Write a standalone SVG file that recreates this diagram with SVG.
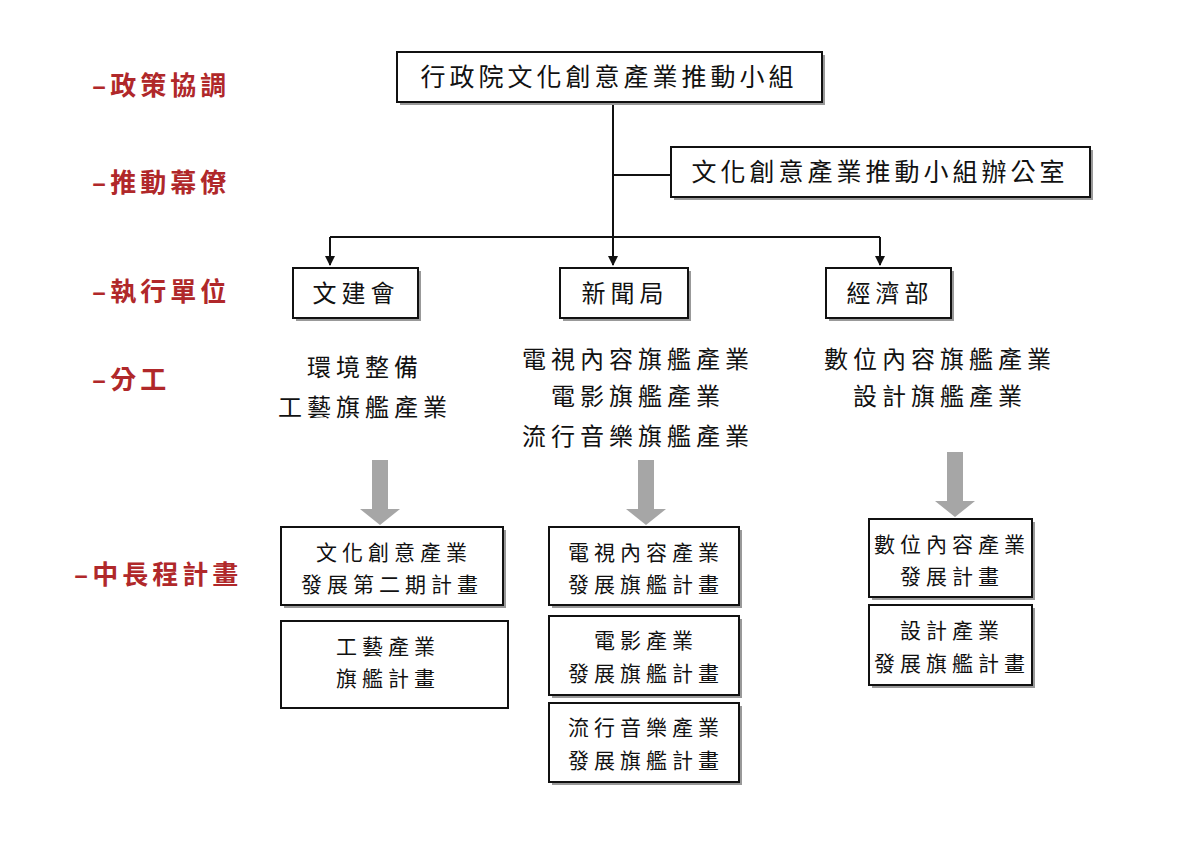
<svg xmlns="http://www.w3.org/2000/svg" width="1200" height="866" viewBox="0 0 1200 866">
<style>
text{font-family:"Noto Sans CJK TC","Noto Sans CJK SC",sans-serif;fill:#111;text-anchor:middle}
.lab{fill:#b0282a;font-size:26px;font-weight:bold;text-anchor:start;letter-spacing:4px}
.box{fill:#fff;stroke:#111;stroke-width:2}
.sh{fill:#999}
.t1{font-size:25px;letter-spacing:4px}
.t2{font-size:24px;letter-spacing:5px}
.t3{font-size:21px;letter-spacing:5px}
.ln{stroke:#111;stroke-width:2;fill:none}
.ga{fill:#a6a6a6}
</style>
<defs><marker id="ah" markerWidth="10" markerHeight="10" refX="9" refY="5" orient="auto" markerUnits="userSpaceOnUse" viewBox="0 0 10 10"><path d="M0,0L10,5L0,10z" fill="#111"/></marker></defs>
<g id="labels">
<text class="lab" x="92" y="95">–政策協調</text>
<text class="lab" x="92" y="192">–推動幕僚</text>
<text class="lab" x="92" y="301">–執行單位</text>
<text class="lab" x="92" y="389">–分工</text>
<text class="lab" x="74" y="584">–中長程計畫</text>
</g>
<g id="connectors">
<path class="ln" d="M613,102V255"/>
<path class="ln" d="M613,175H671"/>
<path class="ln" d="M330,237H880"/>
<path class="ln" d="M330,237V265" marker-end="url(#ah)"/>
<path class="ln" d="M880,237V265" marker-end="url(#ah)"/>
<path class="ln" d="M613,237V265" marker-end="url(#ah)"/>
<path class="ga" d="M372,460h16v49h12l-20,16l-20,-16h12z"/>
<path class="ga" d="M638,460h16v49h12l-20,16l-20,-16h12z"/>
<path class="ga" d="M947,452h16v49h12l-20,16l-20,-16h12z"/>
</g>
<g id="n-top"><rect class="sh" x="400" y="55" width="425" height="50"/><rect class="box" x="397" y="52" width="425" height="50"/><text class="t1" x="609" y="86">行政院文化創意產業推動小組</text></g>
<g id="n-office"><rect class="sh" x="674" y="150" width="419" height="50"/><rect class="box" x="671" y="147" width="419" height="50"/><text class="t1" x="880" y="181">文化創意產業推動小組辦公室</text></g>
<g id="n-cca"><rect class="sh" x="296" y="271" width="125" height="50"/><rect class="box" x="293" y="268" width="125" height="50"/><text class="t2" x="356" y="302">文建會</text></g>
<g id="n-gio"><rect class="sh" x="563" y="271" width="128" height="50"/><rect class="box" x="560" y="268" width="128" height="50"/><text class="t2" x="625" y="302">新聞局</text></g>
<g id="n-moea"><rect class="sh" x="829" y="271" width="125" height="50"/><rect class="box" x="826" y="268" width="125" height="50"/><text class="t2" x="890" y="302">經濟部</text></g>
<g id="div-left"><text class="t2" x="365" y="376">環境整備</text><text class="t2" x="365" y="416">工藝旗艦產業</text></g>
<g id="div-mid"><text class="t2" x="638" y="368">電視內容旗艦產業</text><text class="t2" x="638" y="405">電影旗艦產業</text><text class="t2" x="638" y="445">流行音樂旗艦產業</text></g>
<g id="div-right"><text class="t2" x="940" y="368">數位內容旗艦產業</text><text class="t2" x="940" y="405">設計旗艦產業</text></g>
<g id="p1"><rect class="sh" x="284" y="530" width="222" height="78"/><rect class="box" x="281" y="527" width="222" height="78"/><text class="t3" x="394" y="560">文化創意產業</text><text class="t3" x="392" y="592">發展第二期計畫</text></g>
<g id="p2"><rect class="box" x="281" y="621" width="227" height="87"/><text class="t3" x="388" y="654">工藝產業</text><text class="t3" x="388" y="686">旗艦計畫</text></g>
<g id="p3"><rect class="sh" x="552" y="530" width="190" height="78"/><rect class="box" x="549" y="527" width="190" height="78"/><text class="t3" x="646" y="560">電視內容產業</text><text class="t3" x="646" y="592">發展旗艦計畫</text></g>
<g id="p4"><rect class="sh" x="552" y="619" width="190" height="79"/><rect class="box" x="549" y="616" width="190" height="79"/><text class="t3" x="646" y="648">電影產業</text><text class="t3" x="646" y="681">發展旗艦計畫</text></g>
<g id="p5"><rect class="sh" x="552" y="706" width="190" height="79"/><rect class="box" x="549" y="703" width="190" height="79"/><text class="t3" x="646" y="735">流行音樂產業</text><text class="t3" x="646" y="768">發展旗艦計畫</text></g>
<g id="p6"><rect class="sh" x="872" y="522" width="163" height="78"/><rect class="box" x="869" y="519" width="163" height="78"/><text class="t3" x="952" y="552">數位內容產業</text><text class="t3" x="952" y="584">發展計畫</text></g>
<g id="p7"><rect class="sh" x="872" y="608" width="163" height="80"/><rect class="box" x="869" y="605" width="163" height="80"/><text class="t3" x="952" y="638">設計產業</text><text class="t3" x="952" y="671">發展旗艦計畫</text></g>
</svg>
